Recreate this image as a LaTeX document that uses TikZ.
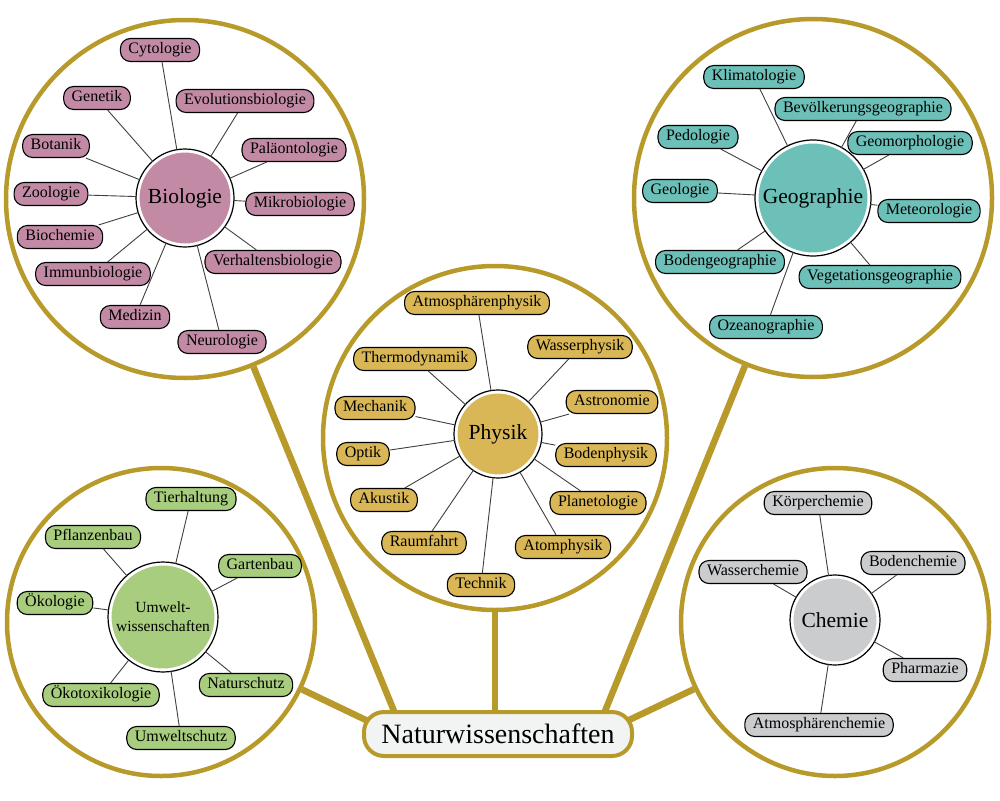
\documentclass[tikz,border=0pt]{standalone}
\usepackage{fontspec}
\setmainfont{Liberation Serif}
\definecolor{gold}{HTML}{B89A2A}
\definecolor{bio}{HTML}{C38AA6}
\definecolor{geo}{HTML}{6CC0B8}
\definecolor{phy}{HTML}{D9B656}
\definecolor{umw}{HTML}{A8CD7E}
\definecolor{che}{HTML}{CACCCE}
\definecolor{nat}{HTML}{F2F4F4}
\begin{document}
\begin{tikzpicture}[x=1pt,y=-1pt,
  bigc/.style={circle, draw=gold, line width=4.5pt, fill=white, inner sep=0pt},
  conn/.style={draw=gold, line width=6.5pt},
  natur/.style={draw=gold, line width=4pt, fill=nat, rounded corners=20pt, minimum width=268pt, minimum height=44pt, font=\fontsize{28}{30}\selectfont},
  leaf/.style={draw=black, line width=1.1pt, rounded corners=10pt, inner xsep=8pt, inner ysep=0pt, minimum height=23pt, font=\fontsize{16}{18}\selectfont, text height=11pt, text depth=3.5pt},
  bl/.style={leaf, fill=bio}, gl/.style={leaf, fill=geo}, pl/.style={leaf, fill=phy},
  ul/.style={leaf, fill=umw}, cl/.style={leaf, fill=che},
  hub/.style={circle, draw=white, line width=3pt, inner sep=0pt, font=\fontsize{21.5}{24}\selectfont},
  ring/.style={draw=black, line width=1.2pt},
  edge/.style={draw=black!75, line width=0.9pt}]
\fill[white] (0,0) rectangle (1000,800);
\useasboundingbox (0,0) rectangle (1000,800);

% connector start points inside the central node
\coordinate (kb) at (396,716);
\coordinate (kp) at (495,716);
\coordinate (kg) at (603,716);
\coordinate (ku) at (370,722);
\coordinate (kc) at (627,721);

% big circles
\node[bigc, minimum size=358pt] (bioC) at (185,199) {};
\node[bigc, minimum size=358pt] (geoC) at (813,198) {};
\node[bigc, minimum size=344pt] (phyC) at (495,438) {};
\node[bigc, minimum size=308pt] (umwC) at (161,622) {};
\node[bigc, minimum size=308pt] (cheC) at (835,622) {};

% main connectors
\draw[conn] (kb) -- (bioC);
\draw[conn] (kp) -- (phyC);
\draw[conn] (kg) -- (geoC);
\draw[conn] (ku) -- (umwC);
\draw[conn] (kc) -- (cheC);

\node[natur] (nat) at (498,734) {Naturwissenschaften};

% ---------------- Biologie
\node[hub, fill=bio, minimum size=94pt] (bio) at (185,198) {Biologie};
\draw[ring] (bio.center) circle[radius=49pt];
\node[bl] (b1) at (160,50) {Cytologie};
\node[bl] (b2) at (97,98) {Genetik};
\node[bl] (b3) at (245,101) {Evolutionsbiologie};
\node[bl] (b4) at (56,146) {Botanik};
\node[bl] (b5) at (294,150) {Paläontologie};
\node[bl] (b6) at (51,194) {Zoologie};
\node[bl] (b7) at (300,204) {Mikrobiologie};
\node[bl] (b8) at (60,237) {Biochemie};
\node[bl] (b9) at (273,262) {Verhaltensbiologie};
\node[bl] (b10) at (93,274) {Immunbiologie};
\node[bl] (b11) at (135,317) {Medizin};
\node[bl] (b12) at (222,342) {Neurologie};
\foreach \n in {b1,b2,b3,b4,b5,b6,b7,b8,b9,b10,b11,b12} \draw[edge] (bio) -- (\n);

% ---------------- Geographie
\node[hub, fill=geo, minimum size=112pt] (geo) at (813,198) {Geographie};
\draw[ring] (geo.center) circle[radius=58pt];
\node[gl] (g1) at (754,77) {Klimatologie};
\node[gl] (g2) at (863,109) {Bevölkerungsgeographie};
\node[gl] (g3) at (698,137) {Pedologie};
\node[gl] (g4) at (910,143) {Geomorphologie};
\node[gl] (g5) at (680,191) {Geologie};
\node[gl] (g6) at (929,211) {Meteorologie};
\node[gl] (g7) at (720,262) {Bodengeographie};
\node[gl] (g8) at (880,277) {Vegetationsgeographie};
\node[gl] (g9) at (766,327) {Ozeanographie};
\foreach \n in {g1,g2,g3,g4,g5,g6,g7,g8,g9} \draw[edge] (geo) -- (\n);

% ---------------- Physik
\node[hub, fill=phy, minimum size=84pt] (phy) at (498,434) {Physik};
\draw[ring] (phy.center) circle[radius=44pt];
\node[pl] (p1) at (477,303) {Atmosphärenphysik};
\node[pl] (p2) at (580,347) {Wasserphysik};
\node[pl] (p3) at (415,359) {Thermodynamik};
\node[pl] (p4) at (612,402) {Astronomie};
\node[pl] (p5) at (375,408) {Mechanik};
\node[pl] (p6) at (363,454) {Optik};
\node[pl] (p7) at (606,455) {Bodenphysik};
\node[pl] (p8) at (384,500) {Akustik};
\node[pl] (p9) at (598,503) {Planetologie};
\node[pl] (p10) at (424,543) {Raumfahrt};
\node[pl] (p11) at (563,547) {Atomphysik};
\node[pl] (p12) at (481,585) {Technik};
\foreach \n in {p1,p2,p3,p4,p5,p6,p7,p8,p9,p10,p11,p12} \draw[edge] (phy) -- (\n);

% ---------------- Umweltwissenschaften
\node[hub, fill=umw, minimum size=106pt, align=center, font=\fontsize{15.5}{19}\selectfont] (umw) at (163,617) {Umwelt-\\wissenschaften};
\draw[ring] (umw.center) circle[radius=55pt];
\node[ul] (u1) at (191,499) {Tierhaltung};
\node[ul] (u2) at (93,537) {Pflanzenbau};
\node[ul] (u3) at (260,566) {Gartenbau};
\node[ul] (u4) at (55,603) {Ökologie};
\node[ul] (u5) at (101,695) {Ökotoxikologie};
\node[ul] (u6) at (246,685) {Naturschutz};
\node[ul] (u7) at (181,738) {Umweltschutz};
\foreach \n in {u1,u2,u3,u4,u5,u6,u7} \draw[edge] (umw) -- (\n);

% ---------------- Chemie
\node[hub, fill=che, minimum size=86pt] (che) at (835,620) {Chemie};
\draw[ring] (che.center) circle[radius=45pt];
\node[cl] (c1) at (818,503) {Körperchemie};
\node[cl] (c2) at (913,563) {Bodenchemie};
\node[cl] (c3) at (753,572) {Wasserchemie};
\node[cl] (c4) at (925,670) {Pharmazie};
\node[cl] (c5) at (819,725) {Atmosphärenchemie};
\foreach \n in {c1,c2,c3,c4,c5} \draw[edge] (che) -- (\n);
\end{tikzpicture}
\end{document}
